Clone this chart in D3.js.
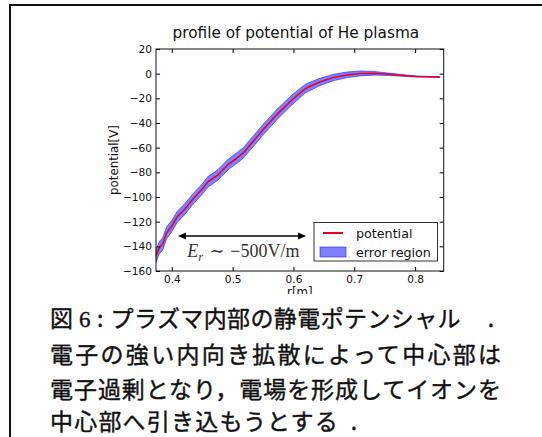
<!DOCTYPE html>
<html>
<head>
<meta charset="utf-8">
<script src="https://cdn.jsdelivr.net/npm/d3@7"></script>
<style>
  html, body { margin: 0; padding: 0; background: #fff; }
  svg { display: block; }
</style>
</head>
<body>
<svg id="fig" width="542" height="437"></svg>
<script>
// Radial profile of the plasma potential (He discharge)
const radius    = [0.3743, 0.3790, 0.3850, 0.3915, 0.4000, 0.4090, 0.4200, 0.4360, 0.4500, 0.4600,
                   0.4760, 0.4930, 0.5080, 0.5180, 0.5300, 0.5500, 0.5730, 0.5960, 0.6100, 0.6200,
                   0.6420, 0.6650, 0.6870, 0.7100, 0.7330, 0.7560, 0.7790, 0.8020, 0.8250, 0.8406];
const potential = [-147.5, -141.5, -138.0, -129.0, -123.5, -116.0, -110.5, -101.0, -93.5, -87.5,
                   -82.0, -73.5, -68.0, -64.0, -57.0, -45.5, -33.0, -22.0, -16.0, -12.0,
                   -7.0, -3.2, -1.0, 0.2, 0.3, -0.5, -1.4, -2.2, -2.6, -2.8];
const errorHalf = [5.0, 5.0, 5.0, 4.8, 4.6, 4.5, 4.4, 4.3, 4.3, 4.3,
                   4.3, 4.3, 4.3, 4.3, 4.3, 4.3, 4.2, 4.0, 3.8, 3.5,
                   3.0, 2.6, 2.3, 2.0, 1.5, 1.0, 0.7, 0.4, 0.3, 0.3];

const xTicks = [0.4, 0.5, 0.6, 0.7, 0.8];
const yTicks = [20, 0, -20, -40, -60, -80, -100, -120, -140, -160];
const xDomain = [0.374, 0.847];
const yDomain = [-160, 20];

const titleText = "profile of potential of He plasma";
const xLabel = "r[m]";
const yLabel = "potential[V]";
const legendItems = [
  { label: "potential", kind: "line" },
  { label: "error region", kind: "patch" }
];

// Field-strength annotation: arrow span (r) at a potential level, plus its label
const arrowSpan = [0.4102, 0.6207];
const arrowLevel = -131.6;
const annotationAt = [0.4255, -149];

const captionHead = ["図", "6", ":"];
const captionLine1 = "プラズマ内部の静電ポテンシャル";
const captionLines = [
  "電子の強い内向き拡散によって中心部は",
  "電子過剰となり，電場を形成してイオンを",
  "中心部へ引き込もうとする"
];

const svg = d3.select("#fig");
svg.append("rect").attr("width", 542).attr("height", 437).attr("fill", "#fff");

// Figure frame (continues past the right and bottom edges)
svg.append("rect")
  .attr("x", 10).attr("y", 5).attr("width", 700).attr("height", 700)
  .attr("fill", "none").attr("stroke", "#111").attr("stroke-width", 2);

// The embedded figure is cropped just below the x label
svg.append("clipPath").attr("id", "figClip")
  .append("rect").attr("x", 11).attr("y", 6).attr("width", 531).attr("height", 288);

const fig = svg.append("g").attr("clip-path", "url(#figClip)");

const plot = { left: 156, right: 443.7, top: 49, bottom: 271 };
const x = d3.scaleLinear().domain(xDomain).range([plot.left, plot.right]);
const y = d3.scaleLinear().domain(yDomain).range([plot.bottom, plot.top]);

const rows = radius.map((r, i) => ({ r, v: potential[i], e: errorHalf[i] }));

// Error band
const band = d3.area()
  .x(d => x(d.r))
  .y0(d => y(d.v - d.e))
  .y1(d => y(d.v + d.e));
fig.append("path")
  .datum(rows)
  .attr("d", band)
  .attr("fill", "blue").attr("fill-opacity", 0.5)
  .attr("stroke", "blue").attr("stroke-opacity", 0.5).attr("stroke-width", 1);

// Mean potential
const line = d3.line().x(d => x(d.r)).y(d => y(d.v));
fig.append("path")
  .datum(rows)
  .attr("d", line)
  .attr("fill", "none").attr("stroke", "#e8001c").attr("stroke-width", 1.5);

// Axes: ticks point inward on all four sides
const tickFont = "'DejaVu Sans', sans-serif";
function styleAxis(g) {
  g.select(".domain").remove();
  g.selectAll(".tick line").attr("stroke", "#000");
  g.selectAll("text").attr("font-family", tickFont).attr("font-size", 10.6).attr("fill", "#111");
}
fig.append("g").attr("transform", `translate(0,${plot.bottom})`)
  .call(d3.axisBottom(x).tickValues(xTicks).tickFormat(d3.format(".1f")).tickSize(-4).tickPadding(4))
  .call(styleAxis);
fig.append("g").attr("transform", `translate(0,${plot.top})`)
  .call(d3.axisTop(x).tickValues(xTicks).tickFormat("").tickSize(-4))
  .call(styleAxis);
fig.append("g").attr("transform", `translate(${plot.left},0)`)
  .call(d3.axisLeft(y).tickValues(yTicks).tickFormat(d3.format("d")).tickSize(-4).tickPadding(4))
  .call(styleAxis);
fig.append("g").attr("transform", `translate(${plot.right},0)`)
  .call(d3.axisRight(y).tickValues(yTicks).tickFormat("").tickSize(-4))
  .call(styleAxis);

fig.append("rect")
  .attr("x", plot.left).attr("y", plot.top)
  .attr("width", plot.right - plot.left).attr("height", plot.bottom - plot.top)
  .attr("fill", "none").attr("stroke", "#111").attr("stroke-width", 1);

// Title and axis labels
fig.append("text")
  .attr("x", (plot.left + plot.right) / 2 - 4).attr("y", 37.5)
  .attr("text-anchor", "middle")
  .attr("font-family", tickFont).attr("font-size", 15.3).attr("fill", "#111")
  .text(titleText);
fig.append("text")
  .attr("x", (plot.left + plot.right) / 2).attr("y", 296)
  .attr("text-anchor", "middle")
  .attr("font-family", tickFont).attr("font-size", 11.8).attr("fill", "#111")
  .text(xLabel);
fig.append("text")
  .attr("transform", `translate(117.5,${(plot.top + plot.bottom) / 2}) rotate(-90)`)
  .attr("text-anchor", "middle")
  .attr("font-family", tickFont).attr("font-size", 11.8).attr("fill", "#111")
  .text(yLabel);

// Double-headed arrow marking the linear region
const ax1 = x(arrowSpan[0]), ax2 = x(arrowSpan[1]), ay = y(arrowLevel);
const head = 8, halfW = 3.5;
fig.append("line")
  .attr("x1", ax1 + head - 1).attr("x2", ax2 - head + 1)
  .attr("y1", ay).attr("y2", ay)
  .attr("stroke", "#000").attr("stroke-width", 1.5);
fig.append("path")
  .attr("d", `M${ax1},${ay}L${ax1 + head},${ay - halfW}L${ax1 + head},${ay + halfW}Z` +
             `M${ax2},${ay}L${ax2 - head},${ay - halfW}L${ax2 - head},${ay + halfW}Z`)
  .attr("fill", "#000");

const ann = fig.append("text")
  .attr("x", x(annotationAt[0])).attr("y", y(annotationAt[1]))
  .attr("font-family", "'Liberation Serif', 'DejaVu Serif', serif")
  .attr("font-size", 18).attr("fill", "#333");
ann.append("tspan").attr("font-style", "italic").text("E");
ann.append("tspan").attr("font-style", "italic").attr("font-size", 12.5).attr("dy", 3.5).text("r");
ann.append("tspan").attr("dy", -3.5).attr("dx", 6).text("∼");
ann.append("tspan").attr("dx", 6).text("−500V/m");

// Legend
const lg = { x: 314, y: 222.5, w: 123.5, h: 38.5 };
fig.append("rect")
  .attr("x", lg.x).attr("y", lg.y).attr("width", lg.w).attr("height", lg.h)
  .attr("fill", "#fff").attr("stroke", "#333").attr("stroke-width", 1);
legendItems.forEach((item, i) => {
  const cy = lg.y + 10.5 + i * 19;
  if (item.kind === "line") {
    fig.append("line")
      .attr("x1", lg.x + 9).attr("x2", lg.x + 29).attr("y1", cy).attr("y2", cy)
      .attr("stroke", "#e8001c").attr("stroke-width", 2);
  } else {
    fig.append("rect")
      .attr("x", lg.x + 6).attr("y", cy - 5).attr("width", 26).attr("height", 10)
      .attr("fill", "blue").attr("fill-opacity", 0.5)
      .attr("stroke", "blue").attr("stroke-opacity", 0.5);
  }
  fig.append("text")
    .attr("x", lg.x + 42).attr("y", cy + 4.5)
    .attr("font-family", tickFont).attr("font-size", 12.7).attr("fill", "#111")
    .text(item.label);
});

// Caption (regular weight, lightly stroked for a medium look)
const capFont = "'Noto Sans CJK JP', 'Noto Sans CJK SC', sans-serif";
const cap = svg.append("g").attr("fill", "#111").attr("font-family", capFont)
  .attr("font-size", 23).attr("stroke", "#111").attr("stroke-width", 0.4);
const baselines = [327, 362.5, 398, 430];
cap.append("text").attr("x", 50).attr("y", baselines[0]).text(captionHead[0]);
cap.append("text").attr("x", 79).attr("y", baselines[0])
  .attr("font-family", "'Liberation Serif', 'DejaVu Serif', serif")
  .text(captionHead[1]);
cap.append("text").attr("x", 97).attr("y", baselines[0]).text(captionHead[2]);
cap.append("text").attr("x", 110.6).attr("y", baselines[0])
  .attr("textLength", 350).attr("lengthAdjust", "spacing").text(captionLine1);
cap.append("text").attr("x", 491).attr("y", baselines[0]).attr("text-anchor", "middle").text(".");
cap.append("text").attr("x", 50).attr("y", baselines[1])
  .attr("textLength", 451).attr("lengthAdjust", "spacing").text(captionLines[0]);
cap.append("text").attr("x", 50).attr("y", baselines[2])
  .attr("textLength", 451).attr("lengthAdjust", "spacing").text(captionLines[1]);
cap.append("text").attr("x", 50).attr("y", baselines[3])
  .attr("letter-spacing", 1.2).text(captionLines[2]);
cap.append("text").attr("x", 354).attr("y", baselines[3]).attr("text-anchor", "middle").text(".");
</script>
</body>
</html>
